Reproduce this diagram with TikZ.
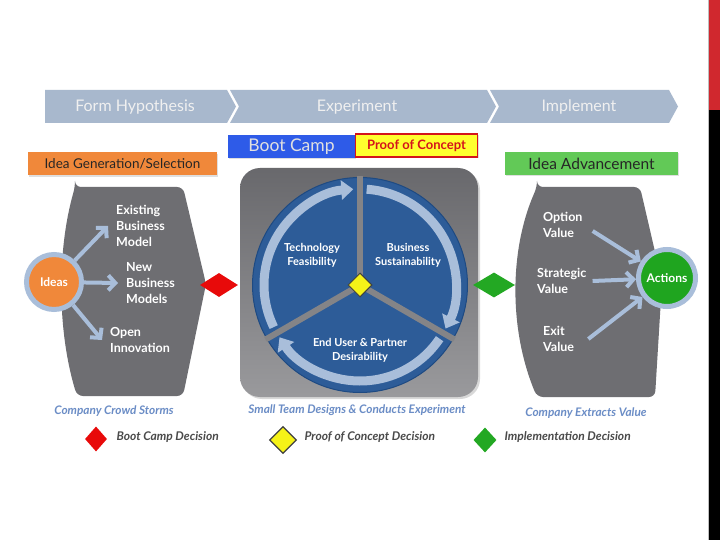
\documentclass[tikz,border=0pt]{standalone}
\usepackage{fontspec}
\setmainfont{Lato}
\usetikzlibrary{arrows.meta,shapes.geometric,shadows}
\definecolor{bandblue}{HTML}{A8B8CD}
\definecolor{campblue}{HTML}{2E5BE8}
\definecolor{pocyellow}{HTML}{FFFF2E}
\definecolor{pocred}{HTML}{D4141B}
\definecolor{ideaorange}{HTML}{F0883A}
\definecolor{advgreen}{HTML}{62C957}
\definecolor{shapegray}{HTML}{6E6E72}
\definecolor{ringblue}{HTML}{A9BEDA}
\definecolor{actgreen}{HTML}{1FA51F}
\definecolor{wheelblue}{HTML}{2D5C98}
\definecolor{wheelrim}{HTML}{1E4A82}
\definecolor{capblue}{HTML}{6B8DC6}
\definecolor{legtext}{HTML}{4A4A4A}
\definecolor{redd}{HTML}{E80A0A}
\definecolor{yellowd}{HTML}{F5F218}
\definecolor{greend}{HTML}{23A823}
\definecolor{edgered}{HTML}{D0282E}
\tikzset{
  band/.style={fill=bandblue},
  bandtext/.style={text=white!94!black,font=\fontsize{16}{18}\selectfont},
  tagbox/.style={minimum height=23,inner sep=0pt,
    drop shadow={opacity=0.25,shadow xshift=1pt,shadow yshift=-1.5pt}},
  inner/.style={text=white,font=\bfseries\fontsize{12.5}{16}\selectfont,
    align=left,anchor=west,inner sep=2pt},
  wheeltext/.style={text=white,font=\bfseries\fontsize{11}{14}\selectfont,align=center},
  flow/.style={ringblue,line width=4pt,-{Straight Barb[length=7pt,width=15pt]}},
  turn/.style={ringblue,line width=9pt,-{Triangle[length=12pt,width=19pt]}},
  hub/.style={circle,draw=ringblue,line width=5pt,text=white,
    font=\bfseries\fontsize{12}{14}\selectfont,inner sep=0pt},
  decision/.style={diamond,inner sep=0pt},
  caption/.style={text=capblue,font=\bfseries\itshape\fontsize{11.8}{13}\selectfont},
  legend/.style={text=legtext,font=\bfseries\itshape\fontsize{12}{14}\selectfont,anchor=west}
}
\begin{document}
\begin{tikzpicture}[x=1pt,y=-1pt]
\useasboundingbox (0,0) rectangle (720,540);
\fill[white] (0,0) rectangle (720,540);
% slide edge
\fill[edgered] (708,0) rectangle (720,110);
\fill[black] (708,110) rectangle (720,540);
\draw[gray!50] (708,0) -- (708,540);

% phases
\fill[band] (45,90) -- (227,90) -- (236,106.5) -- (227,123) -- (45,123) -- cycle;
\fill[band] (230,90) -- (487,90) -- (496,106.5) -- (487,123) -- (230,123) -- (239,106.5) -- cycle;
\fill[band] (490,90) -- (669,90) -- (678,106.5) -- (669,123) -- (490,123) -- (499,106.5) -- cycle;
\node[bandtext] (hyp) at (135,107) {Form Hypothesis};
\node[bandtext] (exp) at (357,107) {Experiment};
\node[bandtext] (impl) at (579,107) {Implement};

% stage tags
\node[tagbox,fill=campblue,text=white!88!black,minimum width=127,
  font=\fontsize{17.5}{19}\selectfont] (camp) at (291.5,146.5) {Boot Camp};
\node[tagbox,fill=pocyellow,draw=pocred,line width=1.5pt,text=pocred,minimum width=122,
  font=\bfseries\fontsize{13}{15}\selectfont] (poc) at (416.5,145.5) {Proof of Concept};
\node[tagbox,fill=ideaorange,text=black!85,minimum width=189,
  font=\fontsize{13.5}{15}\selectfont] (gen) at (122.5,164) {Idea Generation/Selection};
\node[tagbox,fill=advgreen,text=black!85,minimum width=173,
  font=\fontsize{15.5}{17}\selectfont] (adv) at (591.5,163.5) {Idea Advancement};

% crowd storms
\fill[shapegray,rounded corners=6pt] (75,187) -- (183,187) -- (206,284) -- (183,396)
  -- (77,396) .. controls (57,330) and (57,250) .. cycle;
\node[hub,fill=ideaorange,minimum size=55] (ideas) at (54,282) {Ideas};
\node[inner] (existing) at (114,226) {Existing\\Business\\Model};
\node[inner] (new) at (124,283) {New\\Business\\Models};
\node[inner] (open) at (108,340) {Open\\Innovation};
\draw[flow] (ideas) -- ([xshift=-6]existing.west);
\draw[flow] (ideas) -- ([xshift=-6]new.west);
\draw[flow] (ideas) -- ([xshift=-6]open.west);

% experiment
\shade[top color=shapegray!95!black,bottom color=shapegray!70!white,rounded corners=20pt,
  drop shadow={opacity=0.3,shadow xshift=2pt,shadow yshift=-2pt}]
  (240,168) rectangle (478,397);
\coordinate (wc) at (360,285);
\fill[wheelblue,draw=wheelrim,line width=1pt] (wc) circle[radius=107.5];
\foreach \a in {270,30,150}
  \draw[shapegray!85!white,line width=6pt] (wc) -- ++(\a:109);
\draw[turn] ([shift={(154:96)}]wc) arc[start angle=154,end angle=266,radius=96];
\draw[turn] ([shift={(274:96)}]wc) arc[start angle=274,end angle=387,radius=96];
\draw[turn] ([shift={(34:96)}]wc) arc[start angle=34,end angle=147,radius=96];
\node[wheeltext] (tech) at (312,255) {Technology\\Feasibility};
\node[wheeltext] (biz) at (408,255) {Business\\Sustainability};
\node[wheeltext] (user) at (360,350) {End User \& Partner\\Desirability};
\node[decision,fill=yellowd,draw=black!75,line width=1pt,minimum width=24,minimum height=24] (pocd) at (wc) {};

% gates
\node[decision,fill=redd,minimum width=38,minimum height=24] (campgate) at (219,285) {};
\node[decision,fill=greend,minimum width=42,minimum height=25] (implgate) at (494,285) {};

% extracts value
\fill[shapegray,rounded corners=6pt] (537,187) -- (640,187) -- (662,282) -- (655,397)
  -- (537,397) .. controls (509,330) and (509,250) .. cycle;
\node[hub,fill=actgreen,minimum size=57] (actions) at (667,278) {Actions};
\node[inner] (option) at (541,225) {Option\\Value};
\node[inner] (strategic) at (535,281) {Strategic\\Value};
\node[inner] (exit) at (541,339) {Exit\\Value};
\draw[flow] ([shift={(8,6)}]option.east) -- (actions);
\draw[flow] ([xshift=4]strategic.east) -- (actions);
\draw[flow] ([xshift=12]exit.east) -- (actions);

% captions
\node[caption] (storms) at (114,411) {Company Crowd Storms};
\node[caption] (team) at (357,410) {Small Team Designs \& Conducts Experiment};
\node[caption] (extracts) at (586,413) {Company Extracts Value};

% legend
\node[decision,fill=redd,minimum width=22,minimum height=25] (bcd) at (96,439) {};
\node[legend] (bcdtext) at (113,437) {Boot Camp Decision};
\node[decision,fill=yellowd,draw=black!75,line width=1.2pt,minimum width=27,minimum height=27] (pcd) at (283,440) {};
\node[legend] (pcdtext) at (301,437) {Proof of Concept Decision};
\node[decision,fill=greend,minimum width=23,minimum height=25] (imd) at (485,440) {};
\node[legend] (imdtext) at (501,437) {Implementation Decision};
\end{tikzpicture}
\end{document}
